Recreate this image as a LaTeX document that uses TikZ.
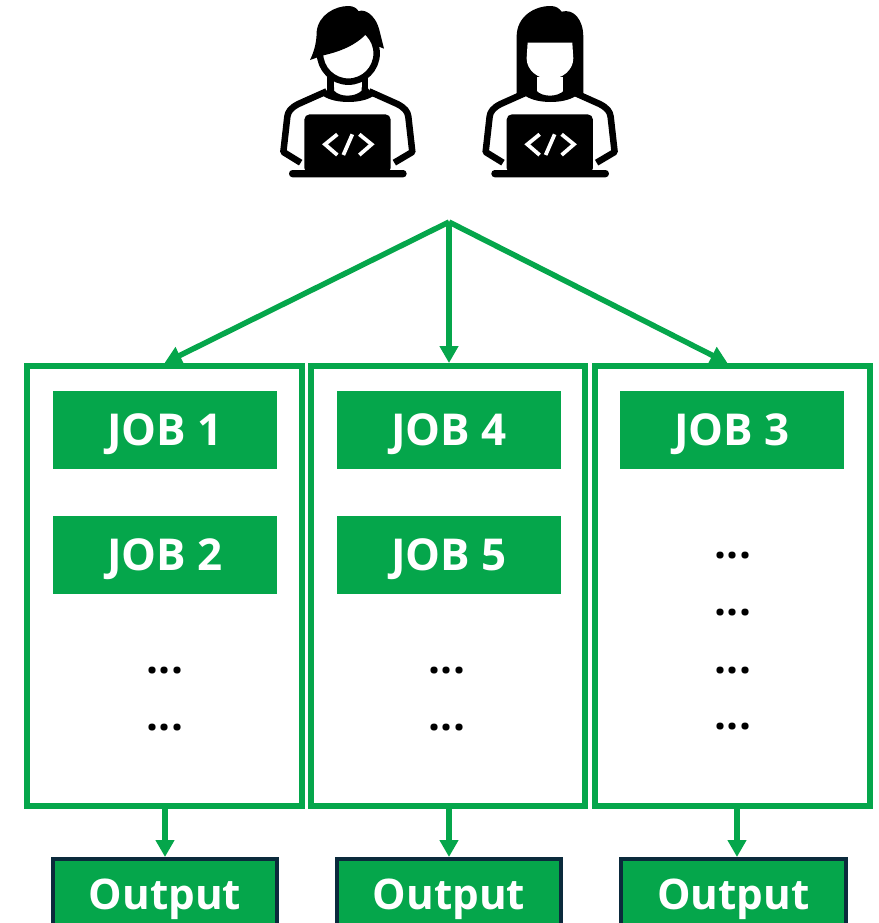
\documentclass[tikz,border=0pt]{standalone}
\usepackage{fontspec}
\setmainfont{Open Sans}
\usetikzlibrary{arrows.meta}
\definecolor{jobgreen}{HTML}{05A64B}
\definecolor{outnavy}{HTML}{0B2A3C}
\tikzset{
    colbox/.style={draw=jobgreen, line width=.12cm, fill=white, minimum width=5.5cm, minimum height=8.8cm},
    jobbox/.style={fill=jobgreen, text=white, font=\bfseries\fontsize{25}{28}\selectfont, text height=.62cm, text depth=0pt, minimum width=4.48cm, minimum height=1.56cm},
    outbox/.style={jobbox, font=\bfseries\fontsize{24}{28}\selectfont, draw=outnavy, line width=.08cm, minimum width=4.5cm, minimum height=1.38cm},
    morejobs/.style={font=\bfseries\fontsize{24}{28}\selectfont},
    flow/.style={draw=jobgreen, line width=.11cm, -{Triangle[length=.34cm,width=.36cm]}},
    iconline/.style={line width=.13cm, line join=round}
}
% shoulders, neck and laptop, drawn at three times the picture's size
\newcommand{\coderbody}{
    \draw[iconline] (212,225) -- (212,268) (315,225) -- (315,268);
    \fill (205,262) -- (190,288) .. controls (225,312) and (305,312) .. (340,288) -- (322,262) -- (305,262) -- (305,272) .. controls (285,292) and (240,292) .. (222,272) -- (222,262) -- cycle;
    \draw[iconline] (200,274) -- (115,312) .. controls (92,324) and (84,335) .. (82,350) -- (70,456) -- (122,488);
    \draw[iconline] (327,274) -- (412,312) .. controls (435,324) and (443,335) .. (445,350) -- (457,456) -- (403,488);
    \fill[rounded corners=3pt] (133,343) rectangle (392,520);
    \fill[rounded corners=2pt] (87,510) rectangle (440,532);
    \draw[white, line width=.075cm] (232,403) -- (195,433) -- (232,465);
    \draw[white, line width=.075cm] (277,403) -- (250,465);
    \draw[white, line width=.075cm] (298,403) -- (335,433) -- (298,465);
}
\begin{document}
\begin{tikzpicture}[x=.02cm, y=-.02cm]
    \path[use as bounding box, clip] (0,0) rectangle (879,923);

    % first coder
    \begin{scope}[shift={(260,0)}, scale=1/3]
        \draw[iconline, fill=white] (265,160) circle [radius=85];
        \fill (150,180) .. controls (165,150) and (170,120) .. (170,95) .. controls (175,45) and (225,18) .. (265,18) .. controls (280,18) and (290,24) .. (296,34) .. controls (310,26) and (345,40) .. (358,90) -- (372,146) -- (352,138) -- (322,98) .. controls (290,135) and (240,155) .. (190,166) -- cycle;
        \coderbody
    \end{scope}

    % second coder
    \begin{scope}[shift={(462.3,0)}, scale=1/3]
        \fill (163,285) -- (163,110) .. controls (163,50) and (215,18) .. (265,18) .. controls (280,18) and (290,24) .. (298,35) .. controls (335,25) and (363,60) .. (363,110) -- (363,285) -- (325,285) -- (325,275) -- (200,275) -- (200,285) -- cycle;
        \fill[white] (196,128) -- (330,128) -- (333,175) .. controls (333,210) and (300,237) .. (263,237) .. controls (226,237) and (193,210) .. (193,175) -- cycle;
        \fill[white] (224,230) rectangle (303,285);
        \coderbody
    \end{scope}

    \node[colbox] (col1) at (164.5,586) {};
    \node[colbox] (col2) at (448,586) {};
    \node[colbox] (col3) at (732.5,586) {};

    \node[jobbox] (job1) at (165,430) {JOB 1};
    \node[jobbox] (job2) at (165,555) {JOB 2};
    \node[jobbox] (job4) at (449,430) {JOB 4};
    \node[jobbox] (job5) at (449,555) {JOB 5};
    \node[jobbox] (job3) at (732,430) {JOB 3};

    \node[morejobs] (more1) at (165,671) {...};
    \node[morejobs] (more2) at (165,728) {...};
    \node[morejobs] (more3) at (447,671) {...};
    \node[morejobs] (more4) at (447,728) {...};
    \node[morejobs] (more5) at (733,556) {...};
    \node[morejobs] (more6) at (733,613) {...};
    \node[morejobs] (more7) at (733,671) {...};
    \node[morejobs] (more8) at (733,727) {...};

    \node[outbox] (out1) at (165,893.5) {Output};
    \node[outbox] (out2) at (449,893.5) {Output};
    \node[outbox] (out3) at (733.5,893.5) {Output};

    \coordinate (apex) at (449,222);
    \draw[flow] (apex) -- (col1.north);
    \draw[flow] (apex) -- (apex |- col2.north);
    \draw[flow] (apex) -- ([xshift=-.1cm]col3.north);

    \draw[flow] (col1.south -| out1.north) -- (out1.north);
    \draw[flow] (col2.south -| out2.north) -- (out2.north);
    \draw[flow] ([xshift=.09cm]col3.south) -- ([xshift=.09cm]col3.south |- out3.north);
\end{tikzpicture}
\end{document}
